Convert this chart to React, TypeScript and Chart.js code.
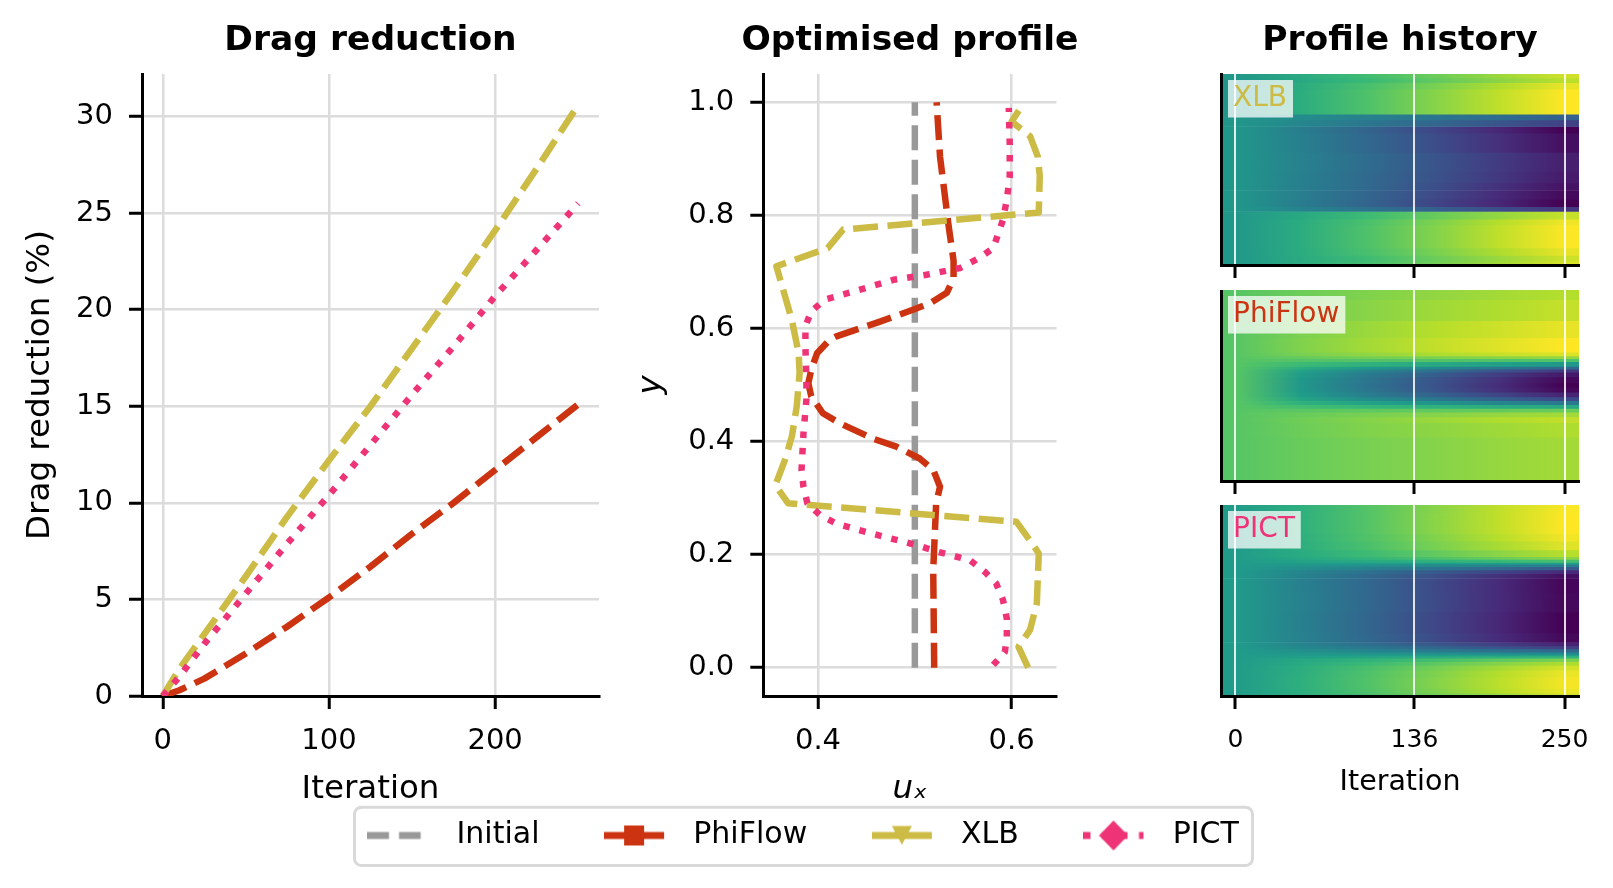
import { useEffect, useRef } from "react";
import { Chart, registerables } from "chart.js";
Chart.register(...registerables);

Chart.defaults.font.family = "'DejaVu Sans', sans-serif";
Chart.defaults.color = "#000";

const RED = "#CC3311";
const GOLD = "#CCBB44";
const PINK = "#EE3377";
const GREY = "#999999";
const GRID = "#dcdcdc";

// drag reduction (%) per optimisation iteration
const iterations = [0, 10, 25, 50, 75, 100, 125, 150, 175, 200, 225, 250];
const phiflowDrag = [0, 0.3, 0.9, 2.2, 3.6, 5.1, 6.7, 8.4, 10.0, 11.7, 13.4, 15.1];
const xlbDrag = [0, 1.4, 3.2, 6.2, 9.3, 12.2, 15.0, 18.0, 21.0, 24.1, 27.3, 30.6];
const pictDrag = [0, 1.0, 2.7, 5.3, 7.9, 10.4, 13.0, 15.6, 18.1, 20.7, 23.1, 25.5];

// optimised inflow profiles u_x(y)
const initialY = [0, 1];
const initialU = [0.5, 0.5];
const phiflowY = [0.0, 0.173, 0.291, 0.32, 0.35, 0.37, 0.391, 0.405, 0.432, 0.45, 0.48, 0.503, 0.527, 0.556, 0.58, 0.586, 0.612, 0.633, 0.645, 0.663, 0.689, 0.72, 0.78, 0.904, 1.0];
const phiflowU = [0.52, 0.519, 0.522, 0.526, 0.519, 0.505, 0.481, 0.457, 0.423, 0.405, 0.393, 0.39, 0.393, 0.399, 0.412, 0.419, 0.464, 0.498, 0.516, 0.533, 0.54, 0.54, 0.535, 0.526, 0.5225];
const xlbY = [0.0, 0.037, 0.067, 0.114, 0.202, 0.22, 0.258, 0.291, 0.323, 0.368, 0.409, 0.462, 0.521, 0.556, 0.615, 0.71, 0.742, 0.775, 0.805, 0.87, 0.904, 0.94, 0.966, 0.99];
const xlbU = [0.617, 0.607, 0.619, 0.626, 0.628, 0.621, 0.605, 0.369, 0.356, 0.366, 0.373, 0.378, 0.381, 0.38, 0.373, 0.357, 0.41, 0.426, 0.628, 0.629, 0.627, 0.619, 0.6, 0.609];
const pictY = [0.005, 0.028, 0.055, 0.087, 0.12, 0.149, 0.17, 0.19, 0.205, 0.214, 0.223, 0.238, 0.255, 0.27, 0.291, 0.32, 0.35, 0.415, 0.474, 0.509, 0.568, 0.604, 0.63, 0.651, 0.668, 0.686, 0.695, 0.707, 0.724, 0.742, 0.792, 0.828, 0.869, 0.928, 0.99];
const pictU = [0.581, 0.593, 0.595, 0.595, 0.591, 0.584, 0.572, 0.557, 0.524, 0.507, 0.488, 0.454, 0.419, 0.402, 0.389, 0.385, 0.383, 0.385, 0.388, 0.388, 0.387, 0.387, 0.393, 0.407, 0.442, 0.478, 0.512, 0.547, 0.566, 0.581, 0.591, 0.595, 0.598, 0.598, 0.597];

// profile history: rows are y-bands (top edge first), columns are the iterations below
const historyIters = [0, 50, 100, 150, 200, 250];
const historyTicks = [0, 136, 250];

const xlbEdges = [1.0, 0.98, 0.955, 0.92, 0.79, 0.76, 0.725, 0.69, 0.59, 0.49, 0.43, 0.39, 0.345, 0.305, 0.28, 0.24, 0.21, 0.09, 0.05, 0.02, 0.0];
const xlbHistory = [
  [0.5, 0.522, 0.544, 0.565, 0.587, 0.609],
  [0.5, 0.52, 0.54, 0.56, 0.58, 0.6],
  [0.5, 0.524, 0.548, 0.571, 0.595, 0.619],
  [0.5, 0.526, 0.551, 0.577, 0.602, 0.628],
  [0.5, 0.488, 0.476, 0.464, 0.452, 0.44],
  [0.5, 0.482, 0.464, 0.446, 0.428, 0.41],
  [0.5, 0.472, 0.443, 0.415, 0.386, 0.358],
  [0.5, 0.474, 0.447, 0.421, 0.394, 0.368],
  [0.5, 0.476, 0.452, 0.428, 0.404, 0.38],
  [0.5, 0.475, 0.45, 0.426, 0.401, 0.376],
  [0.5, 0.474, 0.448, 0.422, 0.396, 0.37],
  [0.5, 0.473, 0.445, 0.418, 0.39, 0.363],
  [0.5, 0.471, 0.443, 0.414, 0.386, 0.357],
  [0.5, 0.48, 0.46, 0.44, 0.42, 0.4],
  [0.5, 0.521, 0.542, 0.563, 0.584, 0.605],
  [0.5, 0.524, 0.549, 0.573, 0.598, 0.622],
  [0.5, 0.525, 0.551, 0.576, 0.602, 0.627],
  [0.5, 0.524, 0.548, 0.571, 0.595, 0.619],
  [0.5, 0.522, 0.543, 0.565, 0.586, 0.608],
  [0.5, 0.523, 0.545, 0.568, 0.59, 0.613],
];

const phiflowEdges = [1.0, 0.95, 0.84, 0.75, 0.7, 0.675, 0.655, 0.64, 0.625, 0.6, 0.585, 0.57, 0.545, 0.515, 0.49, 0.465, 0.44, 0.42, 0.4, 0.38, 0.36, 0.335, 0.305, 0.23, 0.0];
const phiflowHistory = [
  [0.5, 0.506, 0.511, 0.515, 0.519, 0.523],
  [0.5, 0.508, 0.513, 0.518, 0.522, 0.527],
  [0.5, 0.51, 0.517, 0.523, 0.529, 0.535],
  [0.5, 0.511, 0.519, 0.526, 0.533, 0.54],
  [0.5, 0.511, 0.519, 0.526, 0.533, 0.54],
  [0.5, 0.509, 0.515, 0.521, 0.527, 0.532],
  [0.5, 0.504, 0.508, 0.51, 0.513, 0.516],
  [0.5, 0.499, 0.499, 0.499, 0.498, 0.498],
  [0.5, 0.492, 0.486, 0.481, 0.475, 0.47],
  [0.5, 0.483, 0.471, 0.461, 0.45, 0.44],
  [0.5, 0.476, 0.459, 0.445, 0.429, 0.415],
  [0.5, 0.472, 0.452, 0.435, 0.417, 0.4],
  [0.5, 0.47, 0.449, 0.43, 0.411, 0.393],
  [0.5, 0.469, 0.447, 0.429, 0.409, 0.39],
  [0.5, 0.47, 0.449, 0.43, 0.411, 0.393],
  [0.5, 0.473, 0.454, 0.438, 0.421, 0.405],
  [0.5, 0.478, 0.463, 0.45, 0.436, 0.423],
  [0.5, 0.486, 0.476, 0.468, 0.459, 0.45],
  [0.5, 0.494, 0.49, 0.487, 0.483, 0.48],
  [0.5, 0.501, 0.502, 0.503, 0.504, 0.505],
  [0.5, 0.505, 0.509, 0.512, 0.516, 0.519],
  [0.5, 0.507, 0.512, 0.517, 0.522, 0.526],
  [0.5, 0.506, 0.511, 0.514, 0.518, 0.522],
  [0.5, 0.505, 0.509, 0.512, 0.516, 0.519],
];

const pictEdges = [1.0, 0.96, 0.85, 0.81, 0.765, 0.73, 0.715, 0.7, 0.69, 0.677, 0.66, 0.64, 0.615, 0.54, 0.44, 0.33, 0.28, 0.262, 0.246, 0.23, 0.218, 0.21, 0.198, 0.18, 0.16, 0.135, 0.1, 0.04, 0.015, 0.0];
const pictHistory = [
  [0.5, 0.519, 0.539, 0.558, 0.578, 0.597],
  [0.5, 0.52, 0.539, 0.559, 0.578, 0.598],
  [0.5, 0.519, 0.538, 0.556, 0.575, 0.594],
  [0.5, 0.518, 0.535, 0.553, 0.57, 0.588],
  [0.5, 0.515, 0.53, 0.545, 0.56, 0.575],
  [0.5, 0.512, 0.524, 0.536, 0.548, 0.56],
  [0.5, 0.507, 0.514, 0.521, 0.528, 0.535],
  [0.5, 0.501, 0.502, 0.503, 0.504, 0.505],
  [0.5, 0.495, 0.49, 0.485, 0.48, 0.475],
  [0.5, 0.489, 0.478, 0.467, 0.456, 0.445],
  [0.5, 0.482, 0.464, 0.446, 0.428, 0.41],
  [0.5, 0.479, 0.457, 0.436, 0.414, 0.393],
  [0.5, 0.477, 0.455, 0.432, 0.41, 0.387],
  [0.5, 0.478, 0.455, 0.433, 0.41, 0.388],
  [0.5, 0.477, 0.454, 0.43, 0.407, 0.384],
  [0.5, 0.478, 0.455, 0.433, 0.41, 0.388],
  [0.5, 0.481, 0.462, 0.443, 0.424, 0.405],
  [0.5, 0.485, 0.47, 0.455, 0.44, 0.425],
  [0.5, 0.491, 0.482, 0.473, 0.464, 0.455],
  [0.5, 0.497, 0.494, 0.491, 0.488, 0.485],
  [0.5, 0.501, 0.502, 0.503, 0.504, 0.505],
  [0.5, 0.505, 0.51, 0.515, 0.52, 0.525],
  [0.5, 0.511, 0.522, 0.533, 0.544, 0.555],
  [0.5, 0.514, 0.529, 0.543, 0.558, 0.572],
  [0.5, 0.517, 0.534, 0.551, 0.568, 0.585],
  [0.5, 0.518, 0.537, 0.555, 0.574, 0.592],
  [0.5, 0.519, 0.538, 0.557, 0.576, 0.595],
  [0.5, 0.518, 0.537, 0.555, 0.574, 0.592],
  [0.5, 0.517, 0.533, 0.55, 0.566, 0.583],
];

const legendEntries = ["Initial", "PhiFlow", "XLB", "PICT"];

const VIRIDIS = ["#440154", "#482878", "#3e4a89", "#31688e", "#26828e", "#1f9e89", "#35b779", "#6ece58", "#b5de2b", "#fde725"]
  .map(h => [1, 3, 5].map(i => parseInt(h.slice(i, i + 2), 16)));

function viridis(t: number) {
  const s = Math.max(0, Math.min(1, t)) * (VIRIDIS.length - 1);
  const i = Math.min(VIRIDIS.length - 2, Math.floor(s));
  const f = s - i;
  const a = VIRIDIS[i], b = VIRIDIS[i + 1];
  return `rgb(${a.map((v, k) => Math.round(v + (b[k] - v) * f)).join(",")})`;
}

const DASH = [25, 9.5];
const DOT = [6.5, 10];

const points = (xs: number[], ys: number[]) => xs.map((x, i) => ({ x, y: ys[i] }));

const line = (label: string, data: any[], color: string, dash: number[], order: number) => ({
  label, data, order,
  borderColor: color, backgroundColor: color, borderWidth: 6.5, borderDash: dash,
  borderCapStyle: "butt", borderJoinStyle: "round",
  showLine: true, pointRadius: 0, tension: 0,
});

const gridOpts = { color: GRID, lineWidth: 2.5, tickColor: "#000", tickWidth: 3, tickLength: 13 };
const borderOpts = { color: "#000", width: 3 };
const titleOpts = (text: string, fullSize = true) => ({
  display: true, text, fullSize, color: "#000",
  font: { size: 34.5, weight: "bold" as const },
  padding: { top: 20.3, bottom: 12.3 },
});
const spacer = (width: number) => ({
  axis: "y", position: "right", display: true,
  grid: { display: false }, ticks: { display: false }, border: { display: false },
  afterFit: (s: any) => { s.width = width; },
});

function dragConfig(): any {
  return {
    type: "scatter",
    data: {
      datasets: [
        line("PICT", points(iterations, pictDrag), PINK, DOT, 0),
        line("XLB", points(iterations, xlbDrag), GOLD, DASH, 1),
        line("PhiFlow", points(iterations, phiflowDrag), RED, DASH, 2),
      ],
    },
    options: {
      animation: false, responsive: true, maintainAspectRatio: false, events: [],
      layout: { padding: 0 },
      plugins: { legend: { display: false }, tooltip: { enabled: false }, title: titleOpts("Drag reduction") },
      scales: {
        x: {
          type: "linear", min: -12.5, max: 262.5,
          ticks: { stepSize: 100, includeBounds: false, font: { size: 29 }, padding: 14.6 },
          grid: gridOpts, border: borderOpts,
          title: { display: true, text: "Iteration", font: { size: 32.5 }, padding: { top: 0, bottom: 0.5 } },
          afterFit: (s: any) => { s.height = 114; },
        },
        y: {
          type: "linear", min: 0, max: 32.2,
          ticks: { stepSize: 5, includeBounds: false, font: { size: 29 }, padding: 16 },
          grid: gridOpts, border: borderOpts,
          title: { display: true, text: "Drag reduction (%)", font: { size: 32.5 }, padding: { top: 21.5, bottom: 0 } },
          afterFit: (s: any) => { s.width = 142; },
        },
        yr: spacer(142),
      },
    },
  };
}

function profileConfig(): any {
  return {
    type: "scatter",
    data: {
      datasets: [
        line("PICT", points(pictU, pictY), PINK, DOT, 0),
        line("XLB", points(xlbU, xlbY), GOLD, DASH, 1),
        line("PhiFlow", points(phiflowU, phiflowY), RED, DASH, 2),
        line("Initial", points(initialU, initialY), GREY, DASH, 3),
      ],
    },
    options: {
      animation: false, responsive: true, maintainAspectRatio: false, events: [],
      layout: { padding: 0 },
      plugins: { legend: { display: false }, tooltip: { enabled: false }, title: titleOpts("Optimised profile") },
      scales: {
        x: {
          type: "linear", min: 0.3435, max: 0.6463,
          ticks: { stepSize: 0.2, includeBounds: false, font: { size: 29 }, padding: 14.6 },
          grid: gridOpts, border: borderOpts,
          title: { display: true, text: "uₓ", font: { size: 32.5, style: "italic" }, padding: { top: 0, bottom: 0.5 } },
          afterFit: (s: any) => { s.height = 114; },
        },
        y: {
          type: "linear", min: -0.05, max: 1.05,
          ticks: { stepSize: 0.2, includeBounds: false, font: { size: 29 }, padding: 16, callback: (v: any) => Number(v).toFixed(1) },
          grid: gridOpts, border: borderOpts,
          title: { display: true, text: "y", font: { size: 32.5, style: "italic" }, padding: { top: 12, bottom: 0 } },
          afterFit: (s: any) => { s.width = 143.3; },
        },
        yr: spacer(143.5),
      },
    },
  };
}

const tagPlugin = {
  id: "tag",
  afterDraw(chart: any, _args: any, opts: any) {
    if (!opts || !opts.text) return;
    const { ctx, chartArea } = chart;
    ctx.save();
    ctx.font = "28px 'DejaVu Sans'";
    const w = ctx.measureText(opts.text).width;
    ctx.fillStyle = "rgba(255,255,255,0.75)";
    ctx.fillRect(chartArea.left + 7, chartArea.top + 6, w + 11, 37.5);
    ctx.fillStyle = opts.color;
    ctx.textBaseline = "middle";
    ctx.fillText(opts.text, chartArea.left + 12, chartArea.top + 25);
    ctx.restore();
  },
};

function heatmapConfig(edges: number[], history: number[][], name: string, color: string, top: boolean, bottom: boolean): any {
  const all = history.flat();
  const vmin = Math.min(...all), vmax = Math.max(...all);
  const first = historyIters[0], last = historyIters[historyIters.length - 1];
  const norm = (v: number) => (v - vmin) / (vmax - vmin);
  return {
    type: "bar",
    data: {
      labels: ["history"],
      datasets: history.map((row, r) => ({
        label: `${name} ${r}`,
        data: [[edges[r + 1], edges[r]]],
        xAxisID: "xc", yAxisID: "y",
        grouped: false, categoryPercentage: 1, barPercentage: 1, borderWidth: 0,
        backgroundColor: (ctx: any) => {
          const chart = ctx.chart;
          const xs = chart.scales.x;
          if (!chart.chartArea || !xs) return viridis(norm(row[row.length - 1]));
          const g = chart.ctx.createLinearGradient(xs.getPixelForValue(first), 0, xs.getPixelForValue(last), 0);
          row.forEach((v, c) => g.addColorStop((historyIters[c] - first) / (last - first), viridis(norm(v))));
          return g;
        },
      })),
    },
    options: {
      animation: false, responsive: true, maintainAspectRatio: false, events: [],
      layout: { padding: { left: 0, right: 34, top: 0, bottom: 0 } },
      plugins: {
        legend: { display: false }, tooltip: { enabled: false },
        title: top ? titleOpts("Profile history", false) : { display: false },
        tag: { text: name, color },
      },
      scales: {
        xc: { type: "category", axis: "x", display: false, offset: true },
        x: {
          type: "linear", position: "bottom", min: -11, max: 261, offset: false,
          afterBuildTicks: (s: any) => { s.ticks = historyTicks.map(value => ({ value })); },
          ticks: { display: bottom, font: { size: 25 }, padding: 16.6 },
          grid: { z: 1, offset: false, color: "rgba(255,255,255,0.85)", lineWidth: 2, tickColor: "#000", tickWidth: 3, tickLength: 13 },
          border: { ...borderOpts, z: 2 },
          title: { display: bottom, text: "Iteration", font: { size: 28.5 }, padding: { top: 0, bottom: 9.9 } },
          afterFit: (s: any) => { s.height = bottom ? 114 : 16; },
        },
        y: {
          type: "linear", position: "left", min: 0, max: 1,
          ticks: { display: false }, grid: { display: false }, border: { ...borderOpts, z: 2 },
          afterFit: (s: any) => { s.width = 41; },
        },
      },
    },
    plugins: [tagPlugin],
  };
}

function legendHandle(kind: string) {
  const c = document.createElement("canvas");
  c.width = 74;
  c.height = 40;
  const g = c.getContext("2d")!;
  const y = 20;
  const stroke = (color: string, dash: number[]) => {
    g.lineWidth = 7;
    g.lineCap = "butt";
    g.strokeStyle = color;
    g.setLineDash(dash);
    g.beginPath();
    g.moveTo(0, y);
    g.lineTo(60, y);
    g.stroke();
    g.setLineDash([]);
  };
  if (kind === "Initial") stroke(GREY, [21.7, 10]);
  if (kind === "PhiFlow") {
    stroke(RED, []);
    g.fillStyle = RED;
    g.fillRect(20, y - 10, 20, 20);
  }
  if (kind === "XLB") {
    stroke(GOLD, []);
    g.fillStyle = GOLD;
    g.beginPath();
    g.moveTo(20, y - 9.5);
    g.lineTo(40, y - 9.5);
    g.lineTo(30, y + 9.2);
    g.closePath();
    g.fill();
  }
  if (kind === "PICT") {
    stroke(PINK, [7, 11.5]);
    g.fillStyle = PINK;
    g.beginPath();
    g.moveTo(30, y - 15);
    g.lineTo(44.5, y);
    g.lineTo(30, y + 15);
    g.lineTo(15.5, y);
    g.closePath();
    g.fill();
  }
  return c;
}

const legendFrame = {
  id: "legendFrame",
  beforeDraw(chart: any) {
    const { ctx } = chart;
    ctx.save();
    ctx.beginPath();
    ctx.roundRect(151.5, 51.2, 898, 58.3, 7);
    ctx.fillStyle = "#fff";
    ctx.fill();
    ctx.lineWidth = 3;
    ctx.strokeStyle = "#d9d9d9";
    ctx.stroke();
    ctx.restore();
  },
};

function legendConfig(): any {
  return {
    type: "line",
    data: { datasets: [] },
    options: {
      animation: false, responsive: true, maintainAspectRatio: false, events: [],
      layout: { padding: 0 },
      scales: { x: { display: false }, y: { display: false } },
      plugins: {
        tooltip: { enabled: false },
        legend: {
          display: true, position: "top", align: "center",
          labels: {
            usePointStyle: true, pointStyleWidth: 74.3, padding: 64.5,
            font: { size: 30 }, color: "#000",
            generateLabels: () => legendEntries.map((text, i) => ({
              text, datasetIndex: i, hidden: false, lineWidth: 0, fontColor: "#000",
              fillStyle: "rgba(0,0,0,0)", strokeStyle: "rgba(0,0,0,0)",
              pointStyle: legendHandle(text),
            })),
          },
        },
      },
    },
    plugins: [legendFrame],
  };
}

function ChartBox({ left, top, width, height, make }: { left: number; top: number; width: number; height: number; make: () => any }) {
  const ref = useRef<HTMLCanvasElement>(null);
  useEffect(() => {
    if (!ref.current) return;
    const chart = new Chart(ref.current, make());
    return () => chart.destroy();
  }, []);
  return (
    <div style={{ position: "absolute", left, top, width, height }}>
      <canvas ref={ref} />
    </div>
  );
}

export default function App() {
  return (
    <div style={{ position: "absolute", left: 0, top: 0, width: 1613, height: 888, background: "#fff", overflow: "hidden" }}>
      <ChartBox left={0} top={0} width={741} height={810} make={dragConfig} />
      <ChartBox left={620} top={0} width={580} height={810} make={profileConfig} />
      <ChartBox left={1180} top={0} width={433} height={281} make={() => heatmapConfig(xlbEdges, xlbHistory, "XLB", GOLD, true, false)} />
      <ChartBox left={1180} top={289.5} width={433} height={207} make={() => heatmapConfig(phiflowEdges, phiflowHistory, "PhiFlow", RED, false, false)} />
      <ChartBox left={1180} top={505} width={433} height={305} make={() => heatmapConfig(pictEdges, pictHistory, "PICT", PINK, false, true)} />
      <ChartBox left={202.5} top={755.5} width={1200} height={230} make={legendConfig} />
    </div>
  );
}
